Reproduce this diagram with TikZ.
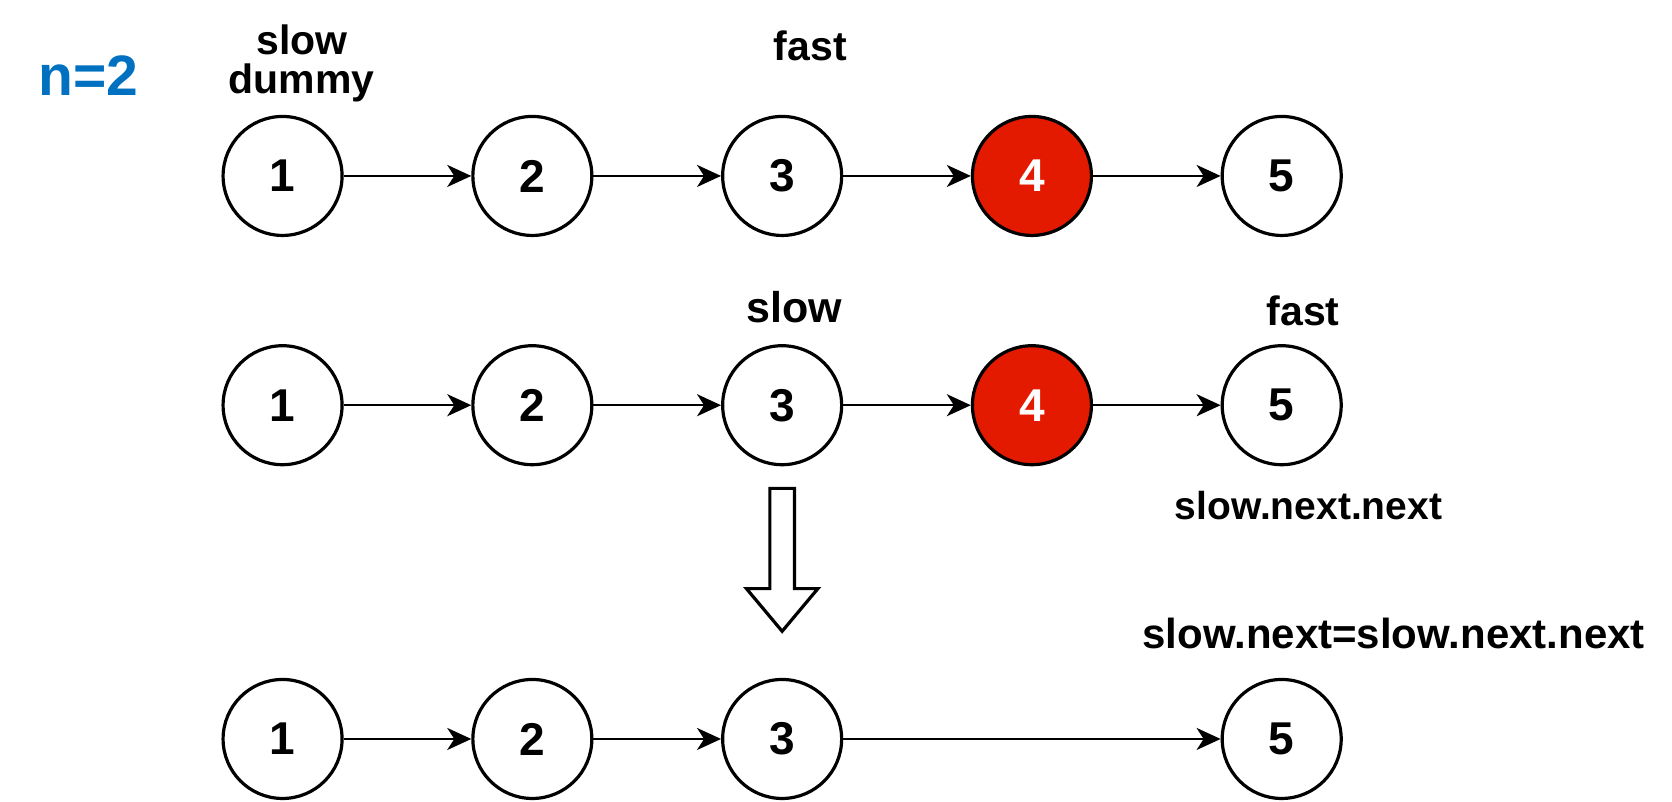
\documentclass[tikz,border=0pt]{standalone}
\usepackage{fontspec}
\setmainfont{Liberation Sans}
\usetikzlibrary{
        automata,
        arrows.meta,
        positioning
    }
\definecolor{nodered}{RGB}{227,26,0}
\definecolor{nblue}{RGB}{0,112,192}
\tikzset{>={Stealth[length=12pt,width=11pt,inset=3.5pt]},auto,node distance=124.9pt}
\tikzset{every state/.style={draw,line width=1.6pt,minimum size=59.5pt,inner sep=0pt,font=\fontsize{23}{23}\selectfont\bfseries}}
\tikzset{removed/.style={fill=nodered,text=white}}
\tikzset{ptr/.style={font=\fontsize{20.5}{19.7}\selectfont\bfseries,anchor=base,align=center}}

\begin{document}
\begin{tikzpicture}[x=0.5332pt,y=-0.5332pt,line width=1.1pt]
                \useasboundingbox (0,0) rectangle (1568,752);
                \node[text=nblue,font=\fontsize{28.5}{28.5}\selectfont\bfseries,anchor=base] (n) at (83,90) {n=2};
                % before
                \node[state] (a1) at (265,165) {1};
                \node[state] (a2) [right of=a1] {2};
                \node[state] (a3) [right of=a2] {3};
                \node[state,removed] (a4) [right of=a3] {4};
                \node[state] (a5) [right of=a4] {5};
                \node[ptr] (slow1) at (283,88) {slow\\dummy};
                \node[ptr] (fast1) at (760,57) {fast};
                \path[->]
                        (a1) edge (a2)
                        (a2) edge (a3)
                        (a3) edge (a4)
                        (a4) edge (a5)
                ;
                % fast moved n+1
                \node[state] (b1) at (265,380) {1};
                \node[state] (b2) [right of=b1] {2};
                \node[state] (b3) [right of=b2] {3};
                \node[state,removed] (b4) [right of=b3] {4};
                \node[state] (b5) [right of=b4] {5};
                \node[ptr,font=\fontsize{21.5}{21.5}\selectfont\bfseries] (slow2) at (745,302) {slow};
                \node[ptr] (fast2) at (1222,305) {fast};
                \node[ptr,font=\fontsize{19.5}{19.5}\selectfont\bfseries] (nn) at (1227,487) {slow.next.next};
                \path[->]
                        (b1) edge (b2)
                        (b2) edge (b3)
                        (b3) edge (b4)
                        (b4) edge (b5)
                ;
                \draw[line width=1.6pt,line join=miter] (722,458) -- (745,458) -- (745,552) -- (767,552)
                        -- (733.5,592) -- (700,552) -- (722,552) -- cycle;
                % after
                \node[state] (c1) at (265,693) {1};
                \node[state] (c2) [right of=c1] {2};
                \node[state] (c3) [right of=c2] {3};
                \node[state] (c5) [right of=c3,xshift=124.9pt] {5};
                \node[ptr,font=\fontsize{21}{21}\selectfont\bfseries] (op) at (1307,608) {slow.next=slow.next.next};
                \path[->]
                        (c1) edge (c2)
                        (c2) edge (c3)
                        (c3) edge (c5)
                ;
\end{tikzpicture}
\end{document}
